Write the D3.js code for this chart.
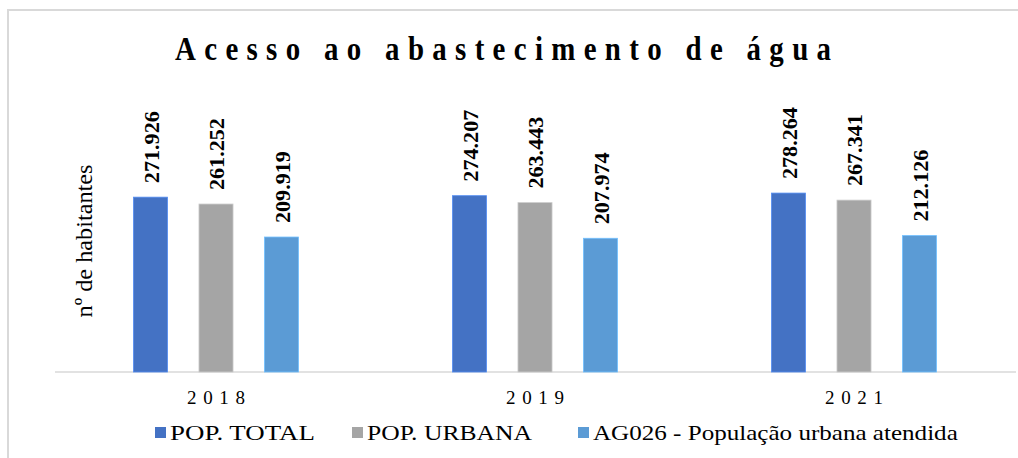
<!DOCTYPE html>
<html>
<head>
<meta charset="utf-8">
<script src="https://cdn.jsdelivr.net/npm/d3@7"></script>
<style>
  body { margin: 0; background: #fff; }
  svg text { font-family: "Liberation Serif", "DejaVu Serif", serif; }
</style>
</head>
<body>
<div id="chart"></div>
<script>
// data
const years = ["2018", "2019", "2021"];
const series = ["POP. TOTAL", "POP. URBANA", "AG026 - População urbana atendida"];
const popTotal = [271926, 274207, 278264];
const popUrbana = [261252, 263443, 267341];
const popAtendida = [209919, 207974, 212126];
const colors = ["#4472c4", "#a5a5a5", "#5b9bd5"];

const values = [popTotal, popUrbana, popAtendida];
const fmt = v => d3.format(",")(v).replace(/,/g, ".");
const SERIF = "Liberation Serif";

const W = 1018, H = 458;
const svg = d3.select("#chart").append("svg")
    .attr("width", W)
    .attr("height", H);

// stretch a text horizontally (in its own frame) to a target length
function fitText(sel, target, base) {
    sel.each(function () {
        const w = this.getComputedTextLength();
        const t = typeof target === "function" ? target.call(this) : target;
        d3.select(this).attr("transform", `${base.call(this)} scale(${t / w},1)`);
    });
}

// frame (only top/left visible in the crop)
svg.append("rect")
    .attr("x", 8).attr("y", 10)
    .attr("width", 1200).attr("height", 600)
    .attr("fill", "none")
    .attr("stroke", "#d9d9d9")
    .attr("stroke-width", 2);

// title: narrow glyphs, wide spacing
svg.append("text")
    .attr("transform", "translate(503,60) scale(0.85,1)")
    .attr("text-anchor", "middle")
    .attr("font-family", SERIF)
    .attr("font-size", 34)
    .attr("font-weight", "bold")
    .attr("textLength", 656 / 0.85)
    .attr("lengthAdjust", "spacing")
    .text("Acesso ao abastecimento de água");

// scales
const x = d3.scaleBand().domain(years).range([56.5, 1013.5]);
const xs = d3.scaleBand().domain(d3.range(3))
    .range([-98.25, 98.25])
    .paddingInner(0.48).paddingOuter(0.24);
const y = d3.scaleLinear().domain([0, 400000]).range([372, 114.8]);

// baseline
svg.append("line")
    .attr("x1", 55).attr("x2", 1016)
    .attr("y1", y(0)).attr("y2", y(0))
    .attr("stroke", "#d9d9d9")
    .attr("stroke-width", 1.5);

// bars + labels
const groups = svg.selectAll(".grp")
    .data(years)
    .join("g")
    .attr("class", "grp")
    .attr("transform", d => `translate(${x(d) + x.bandwidth() / 2},0)`);

groups.each(function (yr, yi) {
    const g = d3.select(this);
    values.forEach((vals, si) => {
        const v = vals[yi];
        g.append("rect")
            .attr("x", xs(si))
            .attr("y", y(v))
            .attr("width", xs.bandwidth())
            .attr("height", y(0) - y(v))
            .attr("fill", colors[si])
            .attr("stroke", d3.color(colors[si]).brighter(0.6))
            .attr("stroke-width", 0.8);
        const cx = xs(si) + xs.bandwidth() / 2;
        const lbl = g.append("text")
            .attr("font-family", SERIF)
            .attr("font-size", 22)
            .attr("font-weight", "bold")
            .text(fmt(v));
        fitText(lbl, 72, () => `translate(${cx + 8},${y(v) - 14}) rotate(-90)`);
    });
});

// year labels
svg.selectAll(".yr")
    .data(years)
    .join("text")
    .attr("class", "yr")
    .attr("x", d => x(d) + x.bandwidth() / 2)
    .attr("y", 404)
    .attr("text-anchor", "middle")
    .attr("font-family", SERIF)
    .attr("font-size", 19)
    .attr("textLength", 58)
    .attr("lengthAdjust", "spacing")
    .text(d => d);

// y axis title
const yTitle = svg.append("text")
    .attr("text-anchor", "middle")
    .attr("font-family", SERIF)
    .attr("font-size", 24)
    .text("nº de habitantes");
fitText(yTitle, 153, () => "translate(92,241) rotate(-90)");

// legend
const legX = [155, 352, 578];
const legLen = [145, 165, 365];
const leg = svg.selectAll(".leg")
    .data(series)
    .join("g")
    .attr("class", "leg")
    .attr("transform", (d, i) => `translate(${legX[i]},0)`);
leg.append("rect")
    .attr("x", 0).attr("y", 427)
    .attr("width", 11).attr("height", 11)
    .attr("fill", (d, i) => colors[i]);
leg.append("text")
    .attr("font-family", SERIF)
    .attr("font-size", 22)
    .text(d => d)
    .call(fitText, function () { return legLen[series.indexOf(d3.select(this).datum())]; },
          () => "translate(15,440)");
</script>
</body>
</html>
